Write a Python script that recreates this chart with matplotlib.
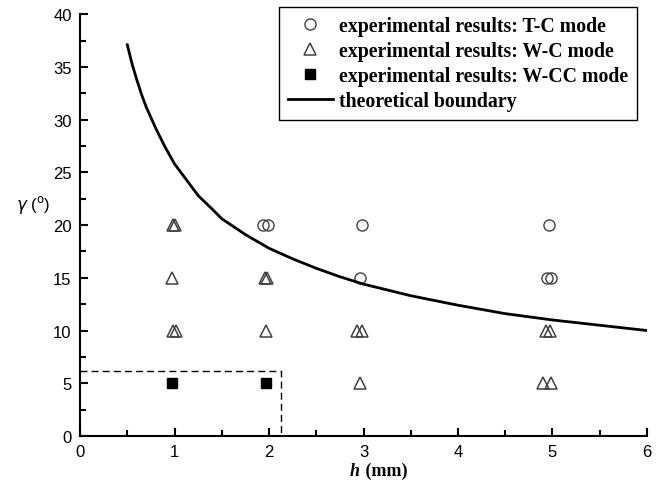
import matplotlib.pyplot as plt
from matplotlib.ticker import MultipleLocator

# T-C mode points (h in mm, gamma in degrees)
tc_h = [1.94, 1.99, 2.98, 4.96, 2.96, 4.94, 4.98]
tc_g = [20, 20, 20, 20, 15, 15, 15]

# W-C mode points
wc_h = [0.98, 1.01, 0.97, 1.96, 1.98, 0.98, 1.02, 1.97, 2.93, 2.98, 4.93, 4.97, 2.96, 4.90, 4.98]
wc_g = [20, 20, 15, 15, 15, 10, 10, 10, 10, 10, 10, 10, 5, 5, 5]

# W-CC mode points
wcc_h = [0.97, 1.97]
wcc_g = [5, 5]

# theoretical boundary
bound_h = [0.5, 0.55, 0.6, 0.65, 0.7, 0.8, 0.9, 1.0, 1.1, 1.25, 1.4, 1.5, 1.75, 2.0, 2.25, 2.5,
           2.75, 3.0, 3.5, 4.0, 4.5, 5.0, 5.5, 6.0]
bound_g = [37.1, 35.3, 33.8, 32.4, 31.2, 29.2, 27.4, 25.8, 24.6, 22.8, 21.5, 20.6, 19.1, 17.8, 16.8, 15.9,
           15.1, 14.4, 13.3, 12.4, 11.6, 11.0, 10.5, 10.0]

# dashed region corner
box_h = 2.13
box_g = 6.2

plt.rcParams['font.family'] = ['Liberation Sans', 'DejaVu Sans']

fig = plt.figure(figsize=(6.67, 4.81), dpi=100)
ax = fig.add_axes([0.12, 0.0915, 0.85, 0.877])

ax.plot(tc_h, tc_g, linestyle='none', marker='o', ms=8, mfc='none', mec='#404040', mew=1.0,
        label='experimental results: T-C mode')
ax.plot(wc_h, wc_g, linestyle='none', marker='^', ms=9, mfc='none', mec='#404040', mew=1.1,
        label='experimental results: W-C mode')
ax.plot(wcc_h, wcc_g, linestyle='none', marker='s', ms=6.5, mfc='black', mec='black',
        label='experimental results: W-CC mode')
ax.plot(bound_h, bound_g, color='black', lw=2.0, label='theoretical boundary')

ax.plot([0, box_h, box_h], [box_g, box_g, 0], color='black', lw=1.0, linestyle=(0, (5, 3)))

ax.set_xlim(0, 6)
ax.set_ylim(0, 40)
ax.xaxis.set_major_locator(MultipleLocator(1))
ax.xaxis.set_minor_locator(MultipleLocator(0.5))
ax.yaxis.set_major_locator(MultipleLocator(5))
ax.yaxis.set_minor_locator(MultipleLocator(2.5))
ax.tick_params(which='both', direction='in', labelsize=12, width=1.5)
ax.tick_params(which='major', length=6, pad=6)
ax.tick_params(which='minor', length=4)
ax.spines['top'].set_visible(False)
ax.spines['right'].set_visible(False)
ax.spines['left'].set_linewidth(1.5)
ax.spines['bottom'].set_linewidth(1.5)

# axis titles: italic symbol, upright unit
ax.text(2.96, -3.3, 'h', fontsize=13, fontweight='bold', style='italic', family='Liberation Serif',
        ha='right', va='center')
ax.text(2.97, -3.3, ' (mm)', fontsize=13, fontweight='bold', family='Liberation Serif',
        ha='left', va='center')
ax.text(-0.5, 22.0, r'$\gamma$ ($^{\mathrm{o}}$)', fontsize=12, ha='center', va='center')

leg = ax.legend(loc='upper right', bbox_to_anchor=(0.982, 1.0166), fancybox=False, edgecolor='black',
                framealpha=1, borderpad=0.45, labelspacing=0.25, handlelength=2.26, handletextpad=0.3,
                borderaxespad=0,
                prop={'family': 'Liberation Serif', 'weight': 'bold', 'size': 14.3})
leg.get_frame().set_linewidth(1.0)

fig.savefig('out.png', dpi=100)
